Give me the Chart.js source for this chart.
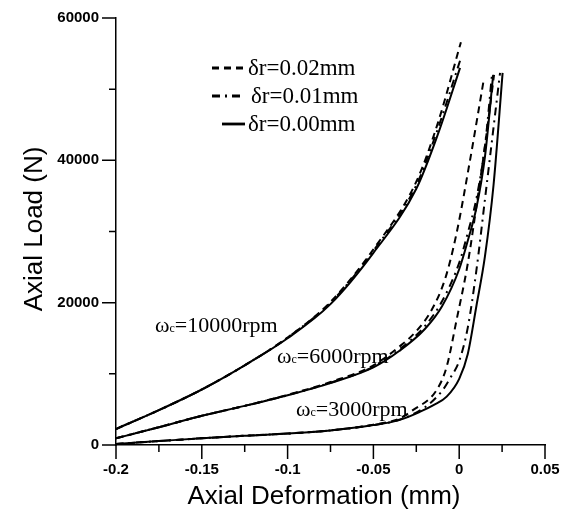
<!DOCTYPE html>
<html>
<head>
<meta charset="utf-8">
<script src="https://cdn.jsdelivr.net/npm/chart.js@4.4.1/dist/chart.umd.min.js"></script>
<style>
    html, body { margin: 0; padding: 0; background: #fff; }
</style>
</head>
<body>
<canvas id="graficoCarga" width="563" height="515"></canvas>
<script>
// ticks
let ticksX = [-0.2, -0.15, -0.1, -0.05, 0, 0.05];
let ticksY = [0, 20000, 40000, 60000];

// axial deformation (mm) -> axial load (N), one list per curve
let w10000_d000 = [[-0.2, 2250], [-0.175, 4900], [-0.15, 7800], [-0.125, 11200], [-0.1, 15000], [-0.075, 19800], [-0.05, 27000], [-0.025, 36000], [-0.0125, 43600], [0.0005, 53000]];
let w10000_d001 = [[-0.2, 2250], [-0.175, 4900], [-0.15, 7800], [-0.125, 11200], [-0.1, 15100], [-0.075, 20000], [-0.05, 27300], [-0.025, 36500], [-0.0125, 44400], [0.0005, 54000]];
let w10000_d002 = [[-0.2, 2250], [-0.175, 4900], [-0.15, 7800], [-0.125, 11200], [-0.1, 15100], [-0.075, 20100], [-0.05, 27500], [-0.025, 37000], [-0.0125, 45200], [0.001, 56600]];

let w6000_d000 = [[-0.2, 940], [-0.175, 2500], [-0.15, 4100], [-0.125, 5500], [-0.1, 7000], [-0.075, 8700], [-0.05, 10900], [-0.035, 13200], [-0.02, 16300], [-0.01, 19500], [0, 24700], [0.005, 28700], [0.01, 33300], [0.015, 40500], [0.0198, 52000]];
let w6000_d001 = [[-0.2, 940], [-0.175, 2500], [-0.15, 4100], [-0.125, 5500], [-0.1, 7000], [-0.075, 8750], [-0.05, 11000], [-0.035, 13400], [-0.02, 16700], [-0.01, 20200], [0, 25600], [0.005, 29800], [0.01, 34600], [0.015, 42000], [0.0192, 52300]];
let w6000_d002 = [[-0.2, 940], [-0.175, 2500], [-0.15, 4100], [-0.125, 5500], [-0.1, 7050], [-0.075, 8850], [-0.05, 11200], [-0.035, 13800], [-0.025, 16000], [-0.016, 19000], [-0.008, 23500], [-0.0015, 29800], [0.0063, 40000], [0.0145, 51600]];

let w3000_d000 = [[-0.2, 150], [-0.175, 550], [-0.15, 950], [-0.125, 1300], [-0.1, 1600], [-0.075, 2050], [-0.05, 2800], [-0.035, 3500], [-0.023, 4650], [-0.015, 5600], [-0.0073, 6800], [0, 9300], [0.005, 12800], [0.01, 19500], [0.015, 26500], [0.02, 36500], [0.0253, 52300]];
let w3000_d001 = [[-0.2, 150], [-0.175, 550], [-0.15, 950], [-0.125, 1300], [-0.1, 1600], [-0.075, 2050], [-0.05, 2800], [-0.035, 3550], [-0.02, 5300], [-0.01, 7600], [-0.005, 9500], [0, 11800], [0.005, 16500], [0.01, 24500], [0.015, 34500], [0.0238, 52300]];
let w3000_d002 = [[-0.2, 150], [-0.175, 550], [-0.15, 950], [-0.125, 1300], [-0.1, 1600], [-0.075, 2050], [-0.05, 2850], [-0.035, 3700], [-0.027, 4900], [-0.0132, 7700], [-0.0073, 11000], [-0.0015, 17600], [0.005, 25500], [0.01, 33500], [0.015, 42000], [0.0203, 52000]];

let leyenda = ["δr=0.02mm", "δr=0.01mm", "δr=0.00mm"];
let velocidades = ["10000rpm", "6000rpm", "3000rpm"];

let trazo = {
    d000: [],
    d001: [8, 5, 2, 5],
    d002: [7, 5]
};

function serie(puntos, dash) {
    return {
        data: puntos.map(p => ({ x: p[0], y: p[1] })),
        borderColor: "#000",
        borderWidth: 2,
        borderDash: dash,
        pointRadius: 0,
        fill: false,
        cubicInterpolationMode: "monotone"
    };
}

function formato(v) {
    return String(Number(v.toFixed(3)));
}

// tick marks, axis titles, legend and speed labels
let extras = {
    id: "extras",
    afterDraw(chart) {
        let ctx = chart.ctx;
        let sx = chart.scales.x;
        let sy = chart.scales.y;
        let area = chart.chartArea;

        ctx.save();
        ctx.strokeStyle = "#000";
        ctx.lineWidth = 1.5;
        ctx.beginPath();
        ticksX.forEach((v, i) => {
            let px = sx.getPixelForValue(v);
            ctx.moveTo(px, area.bottom);
            ctx.lineTo(px, area.bottom + 14);
            if (i < ticksX.length - 1) {
                let m = sx.getPixelForValue((v + ticksX[i + 1]) / 2);
                ctx.moveTo(m, area.bottom);
                ctx.lineTo(m, area.bottom + 7);
            }
        });
        ticksY.forEach((v, i) => {
            let py = sy.getPixelForValue(v);
            ctx.moveTo(area.left, py);
            ctx.lineTo(area.left - 14, py);
            if (i < ticksY.length - 1) {
                let m = sy.getPixelForValue((v + ticksY[i + 1]) / 2);
                ctx.moveTo(area.left, m);
                ctx.lineTo(area.left - 7, m);
            }
        });
        ctx.stroke();

        // axis titles
        ctx.fillStyle = "#000";
        ctx.font = "26px 'Liberation Sans', Arial, sans-serif";
        ctx.textAlign = "center";
        ctx.textBaseline = "alphabetic";
        ctx.fillText("Axial Deformation (mm)", 324, 504);
        ctx.save();
        ctx.translate(42, 229);
        ctx.rotate(-Math.PI / 2);
        ctx.fillText("Axial Load (N)", 0, 0);
        ctx.restore();

        // legend
        let estilos = [trazo.d002, trazo.d001, trazo.d000];
        let inicio = [212, 212, 222];
        ctx.font = "23px 'Liberation Serif', 'Times New Roman', serif";
        ctx.textAlign = "left";
        ctx.textBaseline = "middle";
        leyenda.forEach((txt, i) => {
            let y = 68 + i * 28;
            ctx.beginPath();
            ctx.setLineDash(estilos[i]);
            ctx.lineWidth = 2.8;
            ctx.moveTo(inicio[i], y);
            ctx.lineTo(245, y);
            ctx.stroke();
            ctx.setLineDash([]);
            ctx.fillText(txt, i === 1 ? 251 : 248, y + 1);
        });

        // speed labels
        let posiciones = [[155, 326], [277, 357], [296, 410]];
        velocidades.forEach((txt, i) => {
            let x = posiciones[i][0];
            let y = posiciones[i][1];
            ctx.font = "22px 'Liberation Serif', 'Times New Roman', serif";
            ctx.textBaseline = "middle";
            ctx.fillText("ω", x, y);
            x += ctx.measureText("ω").width;
            ctx.font = "12px 'Liberation Serif', 'Times New Roman', serif";
            ctx.fillText("c", x, y + 3);
            x += ctx.measureText("c").width;
            ctx.font = "22px 'Liberation Serif', 'Times New Roman', serif";
            ctx.fillText("=" + txt, x, y);
        });
        ctx.restore();
    }
};

let grafico = new Chart(document.getElementById("graficoCarga"), {
    type: "line",
    data: {
        datasets: [
            serie(w10000_d002, trazo.d002),
            serie(w10000_d001, trazo.d001),
            serie(w10000_d000, trazo.d000),
            serie(w6000_d002, trazo.d002),
            serie(w6000_d001, trazo.d001),
            serie(w6000_d000, trazo.d000),
            serie(w3000_d002, trazo.d002),
            serie(w3000_d001, trazo.d001),
            serie(w3000_d000, trazo.d000)
        ]
    },
    options: {
        responsive: false,
        animation: false,
        layout: { padding: { top: 18, right: 18, left: 0, bottom: 0 } },
        plugins: {
            legend: { display: false },
            tooltip: { enabled: false }
        },
        scales: {
            x: {
                type: "linear",
                min: -0.2,
                max: 0.05,
                afterFit: s => { s.height = 70; s.paddingLeft = 0; s.paddingRight = 0; },
                afterBuildTicks: s => { s.ticks = ticksX.map(v => ({ value: v })); },
                grid: { drawOnChartArea: false, drawTicks: false },
                border: { color: "#000", width: 1.5 },
                ticks: {
                    color: "#000",
                    padding: 16,
                    maxRotation: 0,
                    autoSkip: false,
                    font: { family: "'Liberation Sans', Arial, sans-serif", size: 15, weight: "bold" },
                    callback: v => formato(v)
                }
            },
            y: {
                type: "linear",
                min: 0,
                max: 60000,
                afterFit: s => { s.width = 116; s.paddingTop = 0; s.paddingBottom = 0; },
                afterBuildTicks: s => { s.ticks = ticksY.map(v => ({ value: v })); },
                grid: { drawOnChartArea: false, drawTicks: false },
                border: { color: "#000", width: 1.5 },
                ticks: {
                    color: "#000",
                    padding: 17,
                    autoSkip: false,
                    font: { family: "'Liberation Sans', Arial, sans-serif", size: 15, weight: "bold" },
                    callback: v => formato(v)
                }
            }
        }
    },
    plugins: [extras]
});
</script>
</body>
</html>
